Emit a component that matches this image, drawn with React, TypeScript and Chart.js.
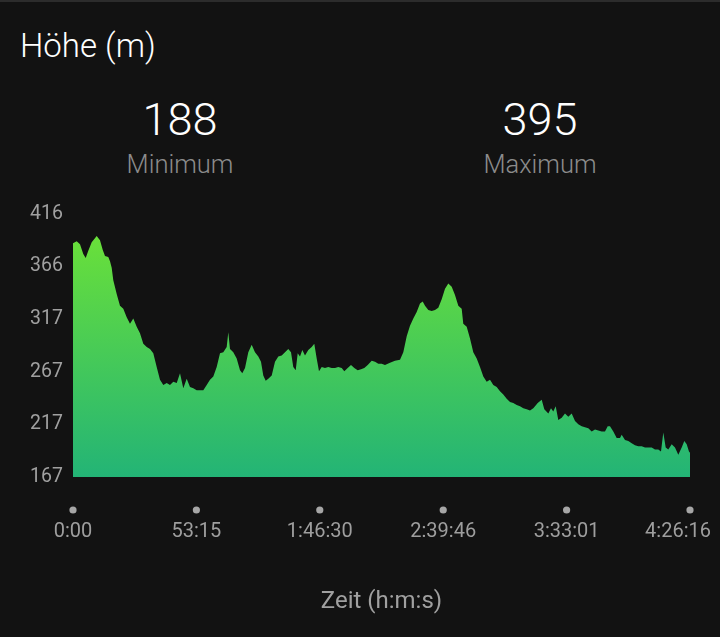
import React, { useEffect, useRef } from "react";
import { Chart, registerables } from "chart.js";

Chart.register(...registerables);

// elapsed time in minutes
const timeMin = [
  0, 1.6, 3.02, 4.44, 5.48, 6.6, 8.07, 10.23, 11.65, 12.82, 13.81, 15.23, 15.97, 16.7, 17.39, 18.86,
  20.28, 21.71, 23.17, 24.6, 26.02, 27.49, 28.91, 30.34, 31.81, 33.23, 34.65, 36.12, 37.54, 38.97,
  40.44, 41.86, 43.28, 44.75, 46.18, 47.6, 49.07, 50.49, 51.92, 53.38, 54.81, 56.23, 57.7, 59.12,
  60.55, 62.01, 63.44, 64.86, 66.33, 67.02, 67.75, 69.18, 70.64, 72.07, 73.06, 74.23, 75.65, 77.12,
  78.54, 79.97, 81.13, 82.12, 83.16, 84.28, 85.75, 87.17, 88.6, 90.06, 91.49, 92.91, 94.08, 95.07,
  96.11, 96.97, 97.96, 98.96, 100.12, 101.54, 103.01, 104.13, 105.17, 106.16, 107.33, 108.75,
  110.17, 111.64, 113.07, 114.49, 115.96, 117.08, 118.55, 119.97, 121.4, 122.86, 124.29, 125.71,
  127.18, 128.9, 130.33, 131.75, 133.22, 134.64, 136.8, 138.96, 141.12, 142.54, 144.01, 145.43,
  146.86, 148.32, 149.75, 150.91, 151.91, 153.33, 154.8, 156.22, 157.65, 159.11, 160.54, 161.96,
  163.43, 164.85, 166.28, 167.74, 168.43, 169.9, 171.33, 172.75, 174.22, 175.64, 177.07, 178.53,
  179.96, 181.38, 182.85, 184.27, 185.7, 187.16, 188.59, 190.01, 191.48, 192.9, 194.33, 195.79,
  197.22, 198.64, 199.38, 200.54, 202.27, 203.39, 205.12, 206.28, 207.27, 208.31, 209.43, 210.9,
  212.32, 213.75, 215.21, 216.64, 218.06, 219.53, 220.95, 222.38, 223.84, 225.27, 226.69, 228.16,
  229.58, 230.75, 231.74, 233.17, 234.63, 236.06, 236.79, 238.22, 239.64, 241.11, 242.53, 243.96,
  245.42, 246.85, 248.27, 249.74, 251.16, 252.59, 253.75, 254.74, 255.78, 256.9, 258.37, 259.79,
  261.22, 262.68, 263.81, 264.84, 265.83, 266.27,
];

// elevation in metres
const elevation = [
  388, 390, 387, 378, 374, 381, 389, 395, 391, 382, 376, 375, 371, 365, 353, 340,
  329, 326, 318, 312, 317, 309, 303, 293, 290, 288, 284, 271, 259, 254,
  256, 254, 257, 256, 265, 251, 260, 252, 251, 249, 249, 249, 254, 259,
  262, 271, 284, 285, 290, 304, 288, 285, 279, 268, 265, 270, 285, 292,
  285, 281, 276, 263, 258, 260, 263, 276, 281, 282, 285, 288, 285, 271,
  268, 284, 281, 287, 282, 287, 290, 293, 279, 267, 271, 270,
  271, 270, 270, 271, 270, 267, 270, 273, 270, 268, 269, 270,
  273, 277, 276, 274, 274, 273, 275, 277, 278, 285, 300, 310,
  317, 323, 331, 333, 329, 325, 324, 325, 327, 335, 345, 350,
  347, 339, 329, 326, 312, 309, 298, 285, 279, 271, 262, 257,
  259, 254, 252, 248, 245, 241, 238, 237, 235, 234, 232, 231,
  230, 232, 234, 237, 240, 231, 227, 232, 229, 234, 221, 223,
  227, 224, 227, 220, 217, 215, 214, 213, 210, 212, 211, 210,
  210, 215, 215, 210, 204, 204, 207, 202, 201, 199, 197, 196,
  196, 195, 195, 195, 193, 193, 191, 209, 195, 193, 198, 195,
  188, 195, 201, 198, 191, 190,
];

const yTickValues = [167, 216.8, 266.6, 316.4, 366.2, 416];
const yTickLabels = ["167", "217", "267", "317", "366", "416"];
const xTickValues = [0, 53.25, 106.5, 159.767, 213.017, 266.267];
const xTickLabels = ["0:00", "53:15", "1:46:30", "2:39:46", "3:33:01", "4:26:16"];

const minValue = "188";
const maxValue = "395";

const FONT = 'Roboto, "Noto Sans", sans-serif';

export default function App() {
  const canvasRef = useRef<HTMLCanvasElement | null>(null);

  useEffect(() => {
    document.body.style.margin = "0";
    document.body.style.background = "#121212";
    const canvas = canvasRef.current;
    if (!canvas) return;

    const dotsAndLabels = {
      id: "xDotsLabels",
      afterDraw(chart: any) {
        const scale = chart.scales.x;
        const c = chart.ctx;
        c.save();
        c.font = `20px ${FONT}`;
        c.textAlign = "center";
        c.textBaseline = "middle";
        xTickValues.forEach((v, i) => {
          const px = scale.getPixelForValue(v);
          c.beginPath();
          c.fillStyle = "#a6a6a6";
          c.arc(px, scale.top + 33, 3.6, 0, Math.PI * 2);
          c.fill();
          const w = c.measureText(xTickLabels[i]).width;
          let cx = Math.min(px, chart.width - 9 - w / 2);
          cx = Math.max(cx, 9 + w / 2);
          c.fillStyle = "#9e9e9e";
          c.fillText(xTickLabels[i], cx, scale.top + 55);
        });
        c.restore();
      },
    };

    const chart = new Chart(canvas, {
      type: "line",
      data: {
        datasets: [
          {
            data: timeMin.map((t, i) => ({ x: t, y: elevation[i] })),
            borderWidth: 0,
            pointRadius: 0,
            tension: 0,
            fill: "start",
            backgroundColor: (ctx: any) => {
              const area = ctx.chart.chartArea;
              if (!area) return "#44cc55";
              const g = ctx.chart.ctx.createLinearGradient(0, area.top, 0, area.bottom);
              g.addColorStop(0, "#70e434");
              g.addColorStop(1, "#23b476");
              return g;
            },
          },
        ],
      },
      options: {
        animation: false,
        responsive: true,
        maintainAspectRatio: false,
        layout: { padding: { top: 21, right: 30, left: 0, bottom: 0 } },
        plugins: { legend: { display: false }, tooltip: { enabled: false } },
        scales: {
          x: {
            type: "linear",
            min: 0,
            max: 266.267,
            grid: { display: false, drawTicks: false },
            border: { display: false },
            ticks: { display: false },
            afterBuildTicks: (s: any) => {
              s.ticks = xTickValues.map((v) => ({ value: v }));
            },
            afterFit: (s: any) => {
              s.height = 160;
            },
            title: {
              display: true,
              text: "Zeit (h:m:s)",
              color: "#a0a0a0",
              font: { family: FONT, size: 24 },
              padding: { top: 0, bottom: 21 },
            },
          },
          y: {
            min: 167,
            max: 416,
            grid: { display: false, drawTicks: false },
            border: { display: false },
            afterBuildTicks: (s: any) => {
              s.ticks = yTickValues.map((v) => ({ value: v }));
            },
            afterFit: (s: any) => {
              s.width = 73;
            },
            ticks: {
              padding: 10,
              color: "#a0a0a0",
              font: { family: FONT, size: 19.5 },
              callback: (_v: any, i: number) => yTickLabels[i],
            },
          },
        },
      },
      plugins: [dotsAndLabels],
    });

    return () => chart.destroy();
  }, []);

  const stat = (left: number, value: string, label: string) => (
    <>
      <div
        style={{
          position: "absolute",
          left: left - 100,
          width: 200,
          top: 95,
          textAlign: "center",
          color: "#ffffff",
          fontSize: 45,
          lineHeight: 1,
          fontWeight: 300,
        }}
      >
        {value}
      </div>
      <div
        style={{
          position: "absolute",
          left: left - 100,
          width: 200,
          top: 150,
          textAlign: "center",
          color: "#8c8c8c",
          fontSize: 25.5,
          lineHeight: 1,
          fontWeight: 300,
        }}
      >
        {label}
      </div>
    </>
  );

  return (
    <div
      style={{
        position: "fixed",
        left: 0,
        top: 0,
        width: 720,
        height: 637,
        background: "#121212",
        borderTop: "2px solid #2c2c2c",
        boxSizing: "border-box",
        fontFamily: FONT,
        overflow: "hidden",
      }}
    >
      <div
        style={{
          position: "absolute",
          left: 20,
          top: 27,
          color: "#ffffff",
          fontSize: 33,
          lineHeight: 1,
          fontWeight: 300,
        }}
      >
        Höhe (m)
      </div>
      {stat(180, minValue, "Minimum")}
      {stat(540, maxValue, "Maximum")}
      <div style={{ position: "absolute", left: 0, top: 190, width: 720, height: 445 }}>
        <canvas ref={canvasRef} />
      </div>
    </div>
  );
}
